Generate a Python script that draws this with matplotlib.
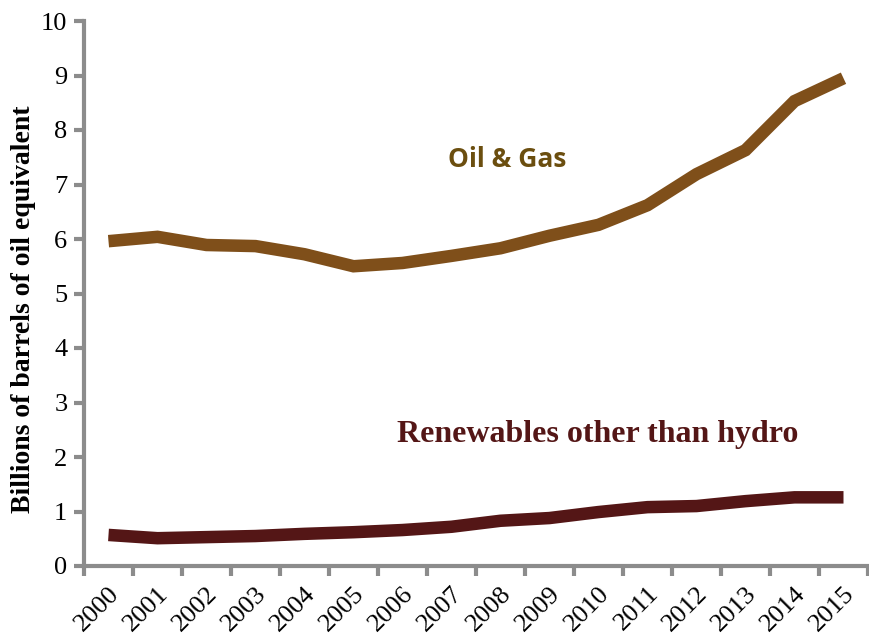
import matplotlib
matplotlib.use('Agg')
import matplotlib.pyplot as plt
import numpy as np

years = ['2000', '2001', '2002', '2003', '2004', '2005', '2006', '2007',
         '2008', '2009', '2010', '2011', '2012', '2013', '2014', '2015']
oil_gas = [5.96, 6.04, 5.89, 5.87, 5.72, 5.50, 5.56, 5.69,
           5.83, 6.06, 6.26, 6.62, 7.19, 7.63, 8.53, 8.95]
renewables = [0.57, 0.51, 0.53, 0.55, 0.59, 0.62, 0.66, 0.72,
              0.83, 0.88, 0.99, 1.08, 1.10, 1.19, 1.26, 1.26]

plt.rcParams['font.family'] = ['Liberation Serif', 'DejaVu Serif']

fig = plt.figure(figsize=(8.69, 6.43), dpi=100)
ax = fig.add_axes([84 / 869, 1 - 566 / 643, 784 / 869, 545 / 643])

x = np.arange(len(years))
ax.plot(x, oil_gas, color='#7f4f1a', lw=9, solid_capstyle='butt', solid_joinstyle='miter')
ax.plot(x, renewables, color='#541616', lw=9, solid_capstyle='butt', solid_joinstyle='miter')

ax.set_xlim(-0.5, len(years) - 0.5)
ax.set_ylim(0, 10)
ax.set_yticks(range(0, 11))
ax.set_xticks(x)
ax.set_xticklabels(years, rotation=45, ha='right', rotation_mode='anchor', fontsize=19)
ax.set_xticks(np.arange(-0.5, len(years)), minor=True)
ax.tick_params(axis='x', which='major', length=0, pad=12)
ax.tick_params(axis='x', which='minor', length=7, width=3, color='#8c8c8c')
ax.tick_params(axis='y', length=7, width=3, color='#8c8c8c', labelsize=19, pad=5)

for side in ['top', 'right']:
    ax.spines[side].set_visible(False)
for side in ['left', 'bottom']:
    ax.spines[side].set_color('#8c8c8c')
    ax.spines[side].set_linewidth(3)

ax.set_ylabel('Billions of barrels of oil equivalent', fontsize=20, fontweight='bold')
ax.yaxis.set_label_coords(-48 / 784, 0.4716)

ax.text(8.13, 7.45, 'Oil & Gas', fontsize=19, fontweight='bold', color='#6b4e0f',
        family=['Open Sans', 'DejaVu Sans'], ha='center', va='center')
ax.text(9.99, 2.42, 'Renewables other than hydro', fontsize=23, fontweight='bold',
        color='#541616', ha='center', va='center')

fig.savefig('out.png', dpi=100)
